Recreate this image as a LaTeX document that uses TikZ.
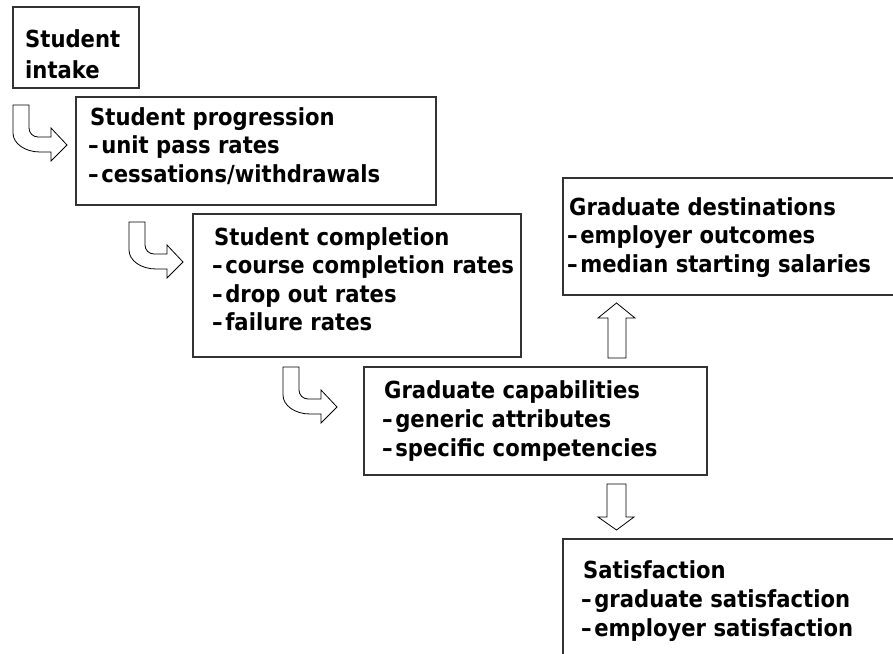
\documentclass[tikz,border=0pt]{standalone}
\usepackage{fontspec}
\setmainfont{DejaVu Sans}[FakeStretch=0.9]
\newcommand{\dsh}{\kern-2pt–\kern2.5pt}
\begin{document}
\begin{tikzpicture}[x=1pt,y=-1pt,
  box/.style={draw=black!80, line width=1.1pt, rectangle, inner sep=0pt},
  txt/.style={anchor=base west, inner sep=0pt, font=\fontsize{23.5}{28}\selectfont\bfseries},
  blk/.style={draw=black, line width=0.8pt, fill=white, line join=miter},
  bendarr/.pic={
    \draw[blk] (0,0) -- (16,0) -- (16,23) .. controls (16,28) and (20,32) .. (25,32)
      -- (38,32) -- (38,23) -- (54,40) -- (38,56) -- (38,47) -- (27,47)
      .. controls (12,47) and (0,38.5) .. (0,28) -- cycle;
  }]
\useasboundingbox (0,0) rectangle (893,653);
\clip (0,0) rectangle (893,653);
\fill[white] (0,0) rectangle (893,653);

% boxes
\node[box, minimum width=126pt, minimum height=81pt]  (b1) at (76,47.5) {};
\node[box, minimum width=360pt, minimum height=108pt] (b2) at (256,151) {};
\node[box, minimum width=328pt, minimum height=143pt] (b3) at (357,285.5) {};
\node[box, minimum width=337pt, minimum height=117pt] (b4) at (731.5,236.5) {};
\node[box, minimum width=343pt, minimum height=108pt] (b5) at (535.5,421) {};
\node[box, minimum width=337pt, minimum height=131pt] (b6) at (731.5,604.5) {};

% texts
\node[txt] (t1a) at (25,47) {Student};
\node[txt] (t1b) at (25,78) {intake};

\node[txt] (t2a) at (90,125) {Student progression};
\node[txt] (t2b) at (90,153) {\dsh unit pass rates};
\node[txt] (t2c) at (90,182) {\dsh cessations/withdrawals};

\node[txt] (t3a) at (214,245) {Student completion};
\node[txt] (t3b) at (214,273) {\dsh course completion rates};
\node[txt] (t3c) at (214,302) {\dsh drop out rates};
\node[txt] (t3d) at (214,330) {\dsh failure rates};

\node[txt] (t4a) at (569,215) {Graduate destinations};
\node[txt] (t4b) at (569,243) {\dsh employer outcomes};
\node[txt] (t4c) at (569,272) {\dsh median starting salaries};

\node[txt] (t5a) at (384,398) {Graduate capabilities};
\node[txt] (t5b) at (384,427) {\dsh generic attributes};
\node[txt] (t5c) at (384,456) {\dsh specific competencies};

\node[txt] (t6a) at (583,578) {Satisfaction};
\node[txt] (t6b) at (583,607) {\dsh graduate satisfaction};
\node[txt] (t6c) at (583,636) {\dsh employer satisfaction};

% bent arrows
\pic (a1) at (13,105) {bendarr};
\pic (a2) at (129,222) {bendarr};
\pic (a3) at (283,367) {bendarr};

% straight block arrows
\draw[blk] (608,358) -- (608,318) -- (598,318) -- (616.5,303) -- (635,318) -- (626,318) -- (626,358) -- cycle;
\draw[blk] (607,484) -- (626,484) -- (626,517) -- (634,517) -- (616.5,530) -- (598,517) -- (607,517) -- cycle;
\end{tikzpicture}
\end{document}
